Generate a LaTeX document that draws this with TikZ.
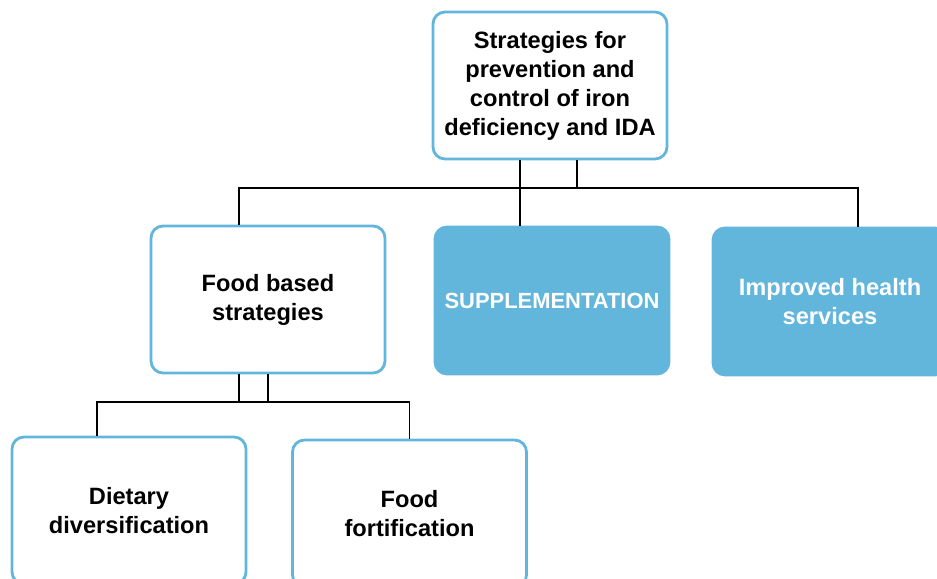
\documentclass[tikz,border=0pt]{standalone}
\usepackage{fontspec}
\setmainfont{Liberation Sans}
\usetikzlibrary{positioning, calc}
\definecolor{boxblue}{HTML}{62B6DC}

\begin{document}
\begin{tikzpicture}[
    every node/.style={font=\bfseries\fontsize{16.8pt}{20.6pt}\selectfont, align=center},
    outlined/.style={draw=boxblue, line width=2pt, fill=white, rounded corners=0.3cm, minimum width=5.85cm, minimum height=3.675cm},
    filled/.style={outlined, fill=boxblue, text=white},
    link/.style={line width=1.3pt}
]
    \useasboundingbox (0,0) rectangle (23.425,14.475);

    % Root node
    \node[outlined] (root) at (13.75,12.3375) {Strategies for\\prevention and\\control of iron\\deficiency and IDA};

    % Second level
    \node[outlined] (food) at (6.7,6.9875) {Food based\\strategies};
    \node[filled, font=\bfseries\fontsize{15.6pt}{19pt}\selectfont] (supp) at (13.8,6.9625) {SUPPLEMENTATION};
    \node[filled] (health) at (20.75,6.9375) {Improved health\\services};

    % Third level
    \node[outlined] (diet) at (3.225,1.7125) {Dietary\\diversification};
    \node[outlined] (fort) at (10.2375,1.6375) {Food\\fortification};

    % Connectors from root
    \coordinate (bus) at (13.75,9.775);
    \coordinate (r1) at ([xshift=-0.75cm]root.south);
    \coordinate (r2) at ([xshift=0.675cm]root.south);
    \draw[link] (r1) -- (r1 |- supp.north);
    \draw[link] (r2) -- (r2 |- bus);
    \draw[link] ([xshift=-0.725cm]food.north) |- (bus) -| ([xshift=0.7cm]health.north);

    % Connectors from food based strategies
    \coordinate (subbus) at (6.7,4.425);
    \coordinate (f1) at ([xshift=-0.725cm]food.south);
    \coordinate (f2) at (food.south);
    \draw[link] (f1) -- (f1 |- subbus);
    \draw[link] (f2) -- (subbus);
    \draw[link] ([xshift=-0.8cm]diet.north) |- (subbus) -| (fort.north);
\end{tikzpicture}
\end{document}
